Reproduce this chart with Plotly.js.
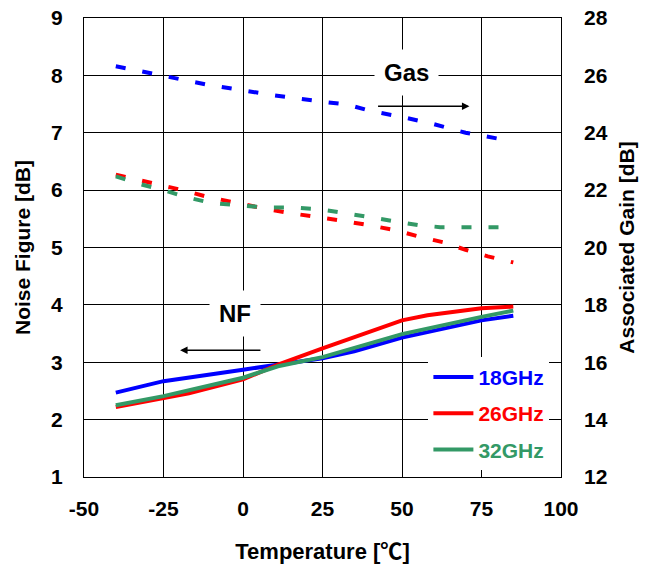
<!DOCTYPE html>
<html><head><meta charset="utf-8">
<script src="https://cdn.plot.ly/plotly-3.0.1.min.js"></script>
<style>html,body{margin:0;padding:0;background:#fff}#c{width:650px;height:578px}</style>
</head><body><div id="c"></div>
<script>
// Noise figure (left axis)
const nfTemp18 = [-40, -25, 0, 11, 25, 35, 50, 75, 85];
const nf18     = [2.47, 2.67, 2.87, 2.96, 3.07, 3.19, 3.43, 3.73, 3.81];
const nfTemp26 = [-40, -25, -17, 0, 11, 25, 38, 50, 58, 75, 85];
const nf26     = [2.22, 2.37, 2.46, 2.70, 2.96, 3.24, 3.49, 3.73, 3.82, 3.94, 3.97];
const nfTemp32 = [-40, -25, 0, 11, 25, 38, 50, 75, 85];
const nf32     = [2.25, 2.41, 2.73, 2.93, 3.09, 3.29, 3.49, 3.79, 3.90];
// Associated gain (right axis)
const gaTemp18 = [-40, -25, -10, 0, 10, 25, 33, 40, 50, 60, 70, 85];
const ga18     = [26.32, 26.0, 25.65, 25.48, 25.3, 25.08, 24.98, 24.76, 24.55, 24.3, 24.0, 23.7];
const gaTemp26 = [-40, -32, -25, -19, -11, -2, 7, 16, 25, 33, 40, 48, 55, 63, 70, 77, 85];
const ga26     = [22.54, 22.34, 22.18, 22.0, 21.76, 21.55, 21.35, 21.18, 21.04, 20.9, 20.77, 20.6, 20.39, 20.18, 19.92, 19.69, 19.48];
const gaTemp32 = [-40, -32, -25, -18, -10, -1, 8, 16, 25, 33, 40, 48, 55, 62, 71, 78, 85];
const ga32     = [22.48, 22.2, 22.0, 21.76, 21.55, 21.46, 21.39, 21.39, 21.32, 21.18, 21.06, 20.9, 20.78, 20.71, 20.71, 20.71, 20.71];
const seriesNames = ['18GHz', '26GHz', '32GHz'];
const colors = ['#0000ff', '#ff0000', '#339966'];
const xTicks = [-50, -25, 0, 25, 50, 75, 100];
const xTickText = ['-50', '-25', '0', '25', '50', '75', '100'];

const FONT = 'Liberation Sans, Arial, sans-serif';
const nfX = [nfTemp18, nfTemp26, nfTemp32], nfY = [nf18, nf26, nf32];
const gX = [gaTemp18, gaTemp26, gaTemp32], gY = [ga18, ga26, ga32];
const traces = [];
for (let i = 0; i < 3; i++) {
  traces.push({x: gX[i], y: gY[i], yaxis: 'y2', mode: 'lines', showlegend: false,
    line: {color: colors[i], width: 4, dash: '10px,17px'}, hoverinfo: 'skip'});
}
for (let i = 0; i < 3; i++) {
  traces.push({x: nfX[i], y: nfY[i], mode: 'lines', legendgroup: 'g' + i,
    name: '<span style="color:' + colors[i] + '">' + seriesNames[i] + '</span>',
    line: {color: colors[i], width: 4}});
}
const tf = {family: FONT, size: 21, weight: 'bold'};
const layout = {
  width: 650, height: 578,
  margin: {l: 84, r: 89, t: 18, b: 101},
  paper_bgcolor: '#fff', plot_bgcolor: '#fff',
  font: {family: FONT, size: 20, color: '#000', weight: 'bold'},
  showlegend: true,
  legend: {x: 0.722, y: 0.262, xanchor: 'left', yanchor: 'top', bgcolor: '#fff',
    font: {family: FONT, size: 21, weight: 'bold'}, traceorder: 'grouped', tracegroupgap: 6,
    itemwidth: 40},
  xaxis: {range: [-50, 100], tickvals: xTicks, ticktext: xTickText, showgrid: true, gridcolor: '#000', gridwidth: 1,
    showline: true, linecolor: '#000', linewidth: 1, mirror: true, zeroline: false,
    ticks: '', ticklabelstandoff: 13, tickfont: tf,
    title: {text: 'Temperature [<span style="font-family:Noto Sans CJK JP">℃</span>]',
      font: {family: FONT, size: 22, weight: 'bold'}, standoff: 24}},
  yaxis: {range: [1, 9], dtick: 1, showgrid: true, gridcolor: '#000', gridwidth: 1,
    showline: true, linecolor: '#000', linewidth: 1, mirror: true, zeroline: false,
    ticks: '', ticklabelstandoff: 16, tickfont: tf,
    title: {text: 'Noise Figure [dB]', font: {family: FONT, size: 21, weight: 'bold'}, standoff: 14}},
  yaxis2: {range: [12, 28], dtick: 2, overlaying: 'y', side: 'right', showgrid: false,
    zeroline: false, ticks: '', ticklabelstandoff: 22, tickfont: tf,
    title: {text: 'Associated Gain [dB]', font: {family: FONT, size: 21, weight: 'bold'}, standoff: 12}},
  annotations: [
    {x: 51.4, y: 8.05, xref: 'x', yref: 'y', text: 'Gas', showarrow: false, bgcolor: '#fff',
      borderpad: 9, font: {family: FONT, size: 24, weight: 'bold'}},
    {x: 71.2, y: 7.46, ax: 42.0, ay: 7.46, xref: 'x', yref: 'y', axref: 'x', ayref: 'y',
      text: '', showarrow: true, arrowhead: 2, arrowsize: 1, arrowwidth: 1.5, arrowcolor: '#000'},
    {x: -2.5, y: 3.85, xref: 'x', yref: 'y', text: 'NF', showarrow: false, bgcolor: '#fff',
      borderpad: 9, font: {family: FONT, size: 24, weight: 'bold'}},
    {x: -19.8, y: 3.21, ax: 5.96, ay: 3.21, xref: 'x', yref: 'y', axref: 'x', ayref: 'y',
      text: '', showarrow: true, arrowhead: 2, arrowsize: 1, arrowwidth: 1.5, arrowcolor: '#000'}
  ]
};
Plotly.newPlot('c', traces, layout, {displayModeBar: false, staticPlot: true});
</script></body></html>
